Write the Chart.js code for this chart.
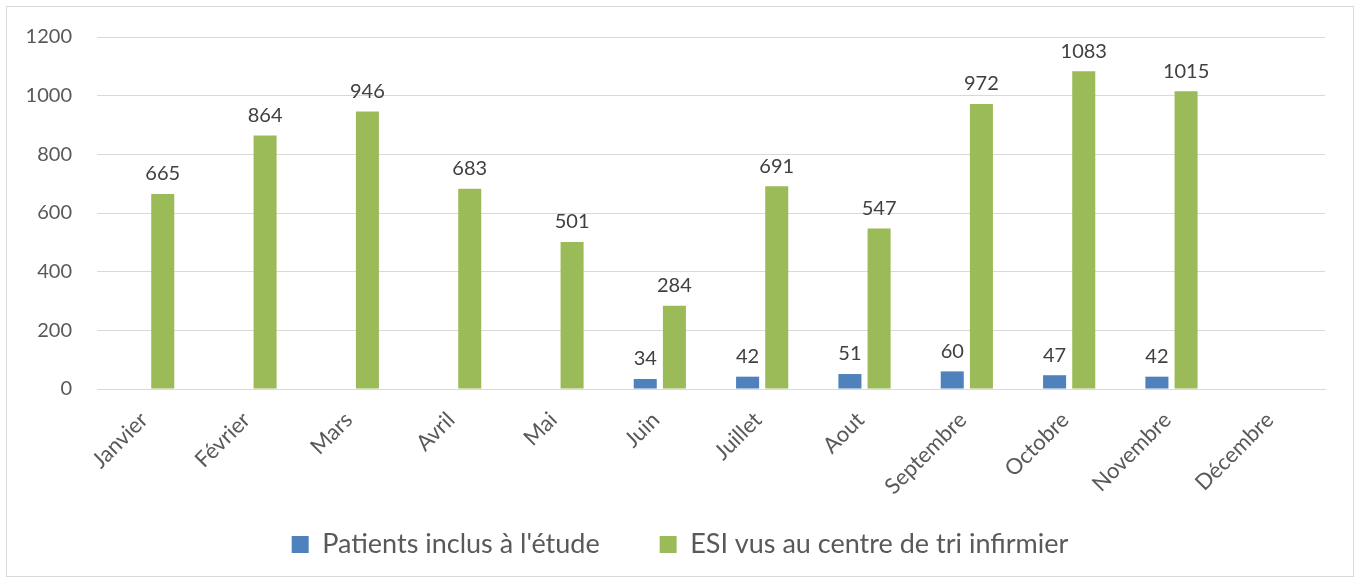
<!DOCTYPE html>
<html>
<head>
<meta charset="utf-8">
<script src="https://cdn.jsdelivr.net/npm/chart.js@4.4.0/dist/chart.umd.min.js"></script>
<style>
  html, body { margin: 0; padding: 0; background: #fff; }
  #wrap { width: 1360px; height: 583px; }
</style>
</head>
<body>
<div id="wrap"><canvas id="chart" width="1360" height="583"></canvas></div>
<script>
var months = ['Janvier', 'Février', 'Mars', 'Avril', 'Mai', 'Juin', 'Juillet', 'Aout', 'Septembre', 'Octobre', 'Novembre', 'Décembre'];
var patients = [null, null, null, null, null, 34, 42, 51, 60, 47, 42, null];
var esi = [665, 864, 946, 683, 501, 284, 691, 547, 972, 1083, 1015, null];
var yTicks = [0, 200, 400, 600, 800, 1000, 1200];

var FONT = 'Lato, "Open Sans", sans-serif';

// white background + light frame around the chart
var framePlugin = {
    id: 'frame',
    beforeDraw: function(chart) {
        var c = chart.ctx;
        c.save();
        c.fillStyle = '#fff';
        c.fillRect(0, 0, chart.width, chart.height);
        c.strokeStyle = '#d9d9d9';
        c.lineWidth = 1;
        c.strokeRect(6.5, 6.5, chart.width - 13, chart.height - 13);
        c.restore();
    }
};

// month labels run past the x axis box, let them overlap the legend area instead of being clipped
var labelRoom = {
    id: 'labelRoom',
    afterLayout: function(chart) {
        chart.scales.x.bottom += 40;
    }
};

// value labels above the bars
var valueLabels = {
    id: 'valueLabels',
    afterDatasetsDraw: function(chart) {
        var c = chart.ctx;
        c.save();
        c.font = '20px ' + FONT;
        c.fillStyle = '#404040';
        c.textAlign = 'center';
        c.textBaseline = 'middle';
        chart.data.datasets.forEach(function(ds, i) {
            var meta = chart.getDatasetMeta(i);
            meta.data.forEach(function(bar, j) {
                var v = ds.data[j];
                if (v === null || v === undefined) return;
                c.fillText(String(v), bar.x, bar.y - 20);
            });
        });
        c.restore();
    }
};

var ctx = document.getElementById('chart').getContext('2d');
var chart = new Chart(ctx, {
    type: 'bar',
    data: {
        labels: months,
        datasets: [
            {
                label: "Patients inclus à l'étude",
                data: patients,
                backgroundColor: '#4F81BD',
                categoryPercentage: 0.57,
                barPercentage: 0.79
            },
            {
                label: 'ESI vus au centre de tri infirmier',
                data: esi,
                backgroundColor: '#9BBB59',
                categoryPercentage: 0.57,
                barPercentage: 0.79
            }
        ]
    },
    options: {
        responsive: false,
        animation: false,
        layout: {
            padding: { left: 0, right: 0, top: 37, bottom: 15 }
        },
        plugins: {
            tooltip: { enabled: false },
            legend: {
                position: 'bottom',
                labels: {
                    font: { family: FONT, size: 27 },
                    color: '#595959',
                    boxWidth: 17,
                    boxHeight: 17,
                    padding: 60
                }
            }
        },
        scales: {
            x: {
                grid: { display: false, drawTicks: false },
                border: { color: '#d9d9d9', width: 1 },
                ticks: {
                    font: { family: FONT, size: 22 },
                    color: '#595959',
                    maxRotation: 45,
                    minRotation: 45,
                    padding: 18,
                    labelOffset: -4
                },
                afterFit: function(s) { s.height = 82; }
            },
            y: {
                min: 0,
                max: 1200,
                afterBuildTicks: function(s) {
                    s.ticks = yTicks.map(function(v) { return { value: v }; });
                },
                grid: { color: '#d9d9d9', lineWidth: 1, drawTicks: false },
                border: { display: false },
                ticks: {
                    font: { family: FONT, size: 20 },
                    color: '#595959',
                    padding: 25,
                    callback: function(v) { return String(v); }
                },
                afterFit: function(s) { s.width = 97; }
            },
            // empty spacer on the right so the legend centres on the whole canvas
            yRight: {
                axis: 'y',
                position: 'right',
                grid: { display: false },
                border: { display: false },
                ticks: { display: false },
                afterFit: function(s) { s.width = 35; }
            }
        }
    },
    plugins: [framePlugin, labelRoom, valueLabels]
});
</script>
</body>
</html>
